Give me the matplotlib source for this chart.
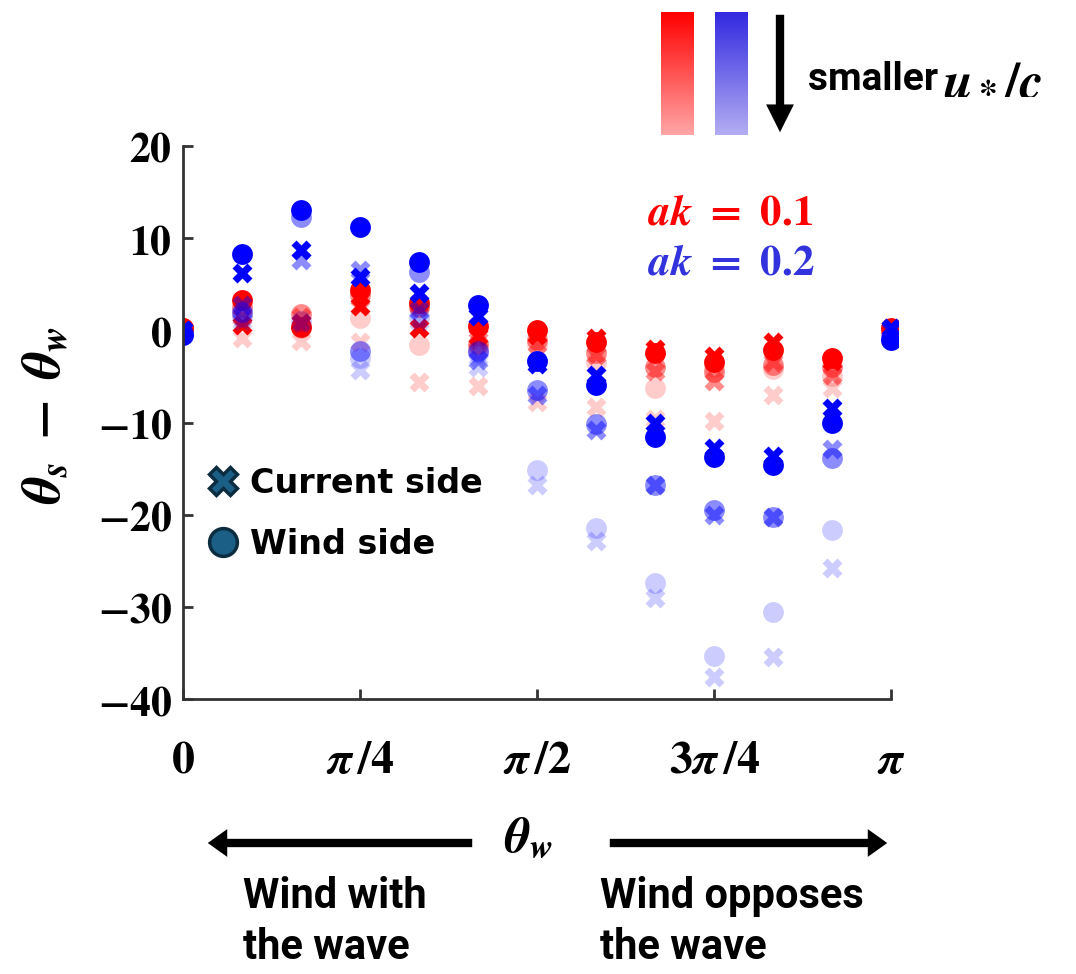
import numpy as np
import matplotlib.pyplot as plt
from matplotlib.lines import Line2D
from matplotlib.patches import FancyArrowPatch

plt.rcParams['mathtext.fontset'] = 'custom'
plt.rcParams['mathtext.rm'] = 'STIXGeneral:bold'
plt.rcParams['mathtext.it'] = 'STIXGeneral:italic:bold'
plt.rcParams['mathtext.bf'] = 'STIXGeneral:bold'
plt.rcParams['font.family'] = ['Roboto', 'DejaVu Sans']

# wind direction, 0 .. pi in steps of pi/12
theta_w = np.arange(13) * np.pi / 12

# ak = 0.1 (red), three u*/c levels: strong -> weak
r_full_circle = [0.3, 3.3, 0.4, 4.4, 3.0, 0.5, 0.0, -1.3, -2.5, -3.4, -2.1, -3.0, 0.3]
r_full_cross = [0.0, 0.6, 0.8, 2.6, 0.3, -0.6, -0.5, -0.8, -2.0, -2.8, -1.3, -3.3, 0.3]
r_mid_circle = [0.2, 2.5, 1.8, 3.8, 2.5, -1.5, -1.0, -2.5, -4.0, -4.5, -3.8, -4.0, 0.0]
r_mid_cross = [0.0, 1.5, 1.5, 3.5, 2.8, -1.0, -1.5, -2.7, -4.4, -5.5, -3.4, -4.8, 0.0]
r_light_circle = [0.0, 1.8, 0.2, 1.3, -1.6, -2.0, -1.5, -3.4, -6.3, -4.0, -4.2, -5.0, -0.3]
r_light_cross = [-0.2, -0.8, -1.2, -1.3, -5.6, -6.0, -7.8, -8.3, -9.6, -9.8, -7.0, -6.3, -0.2]

# ak = 0.2 (blue)
b_full_circle = [-0.5, 8.3, 13.1, 11.2, 7.4, 2.8, -3.3, -5.9, -11.6, -13.7, -14.6, -10.0, -1.0]
b_full_cross = [0.0, 6.2, 8.7, 5.8, 4.1, 1.6, -3.6, -4.8, -10.0, -12.8, -13.6, -8.4, 0.2]
b_mid_circle = [-0.3, 2.0, 12.3, -2.2, 6.3, -2.2, -6.5, -10.2, -16.8, -19.5, -20.2, -13.9, -0.8]
b_mid_cross = [0.0, 2.8, 7.6, 6.6, 2.2, -3.2, -7.0, -10.8, -16.8, -20.0, -20.3, -12.9, 0.0]
b_light_circle = [-0.3, 1.5, 1.0, -3.0, 1.5, -2.5, -15.2, -21.4, -27.4, -35.3, -30.6, -21.7, -0.8]
b_light_cross = [0.0, 1.0, 0.8, -4.3, 1.0, -4.0, -16.8, -22.9, -29.0, -37.6, -35.4, -25.8, 0.0]

xtick_pos = [0, np.pi / 4, np.pi / 2, 3 * np.pi / 4, np.pi]
xtick_labels = [r'$\mathrm{0}$', r'$\pi\,/\mathrm{4}$', r'$\pi\,/\mathrm{2}$',
                r'$\mathrm{3}\pi\,/\mathrm{4}$', r'$\pi$']
ytick_pos = [-40, -30, -20, -10, 0, 10, 20]

W, H = 1076, 974


def fx(px):
    return px / W


def fy(py):
    return 1 - py / H


fig = plt.figure(figsize=(10.76, 9.74), dpi=100)
ax = fig.add_axes([fx(183), fy(699), 715 / W, 553 / H])

series = [
    ('#ff0000', [(0.2, r_light_cross, r_light_circle),
                 (0.45, r_mid_cross, r_mid_circle),
                 (1.0, r_full_cross, r_full_circle)]),
    ('#0000ff', [(0.2, b_light_cross, b_light_circle),
                 (0.45, b_mid_cross, b_mid_circle),
                 (1.0, b_full_cross, b_full_circle)]),
]
for color, levels in series:
    for alpha, cross, circle in levels:
        ax.plot(theta_w, cross, 'X', ms=15, color=color, alpha=alpha, mec='none')
        ax.plot(theta_w, circle, 'o', ms=15, color=color, alpha=alpha, mec='none')

ax.set_xlim(0, np.pi + 0.03)
ax.set_ylim(-40, 20)
for s in ['top', 'right']:
    ax.spines[s].set_visible(False)
for s in ['left', 'bottom']:
    ax.spines[s].set_linewidth(2)
    ax.spines[s].set_color('#333333')
ax.spines['bottom'].set_bounds(0, np.pi)

ax.set_xticks(xtick_pos)
ax.set_xticklabels(xtick_labels)
ax.set_yticks(ytick_pos)
ax.set_yticklabels([r'$\mathrm{%d}$' % v for v in ytick_pos])
ax.tick_params(direction='in', length=7, width=2, color='#333333', labelsize=30)
ax.tick_params(axis='x', pad=28, labelsize=33)
ax.tick_params(axis='y', pad=8)

fig.text(fx(45), fy(415), r'$\theta_s\;-\;\theta_w$', rotation=90,
         ha='center', va='center', fontsize=39)

fig.text(fx(730), fy(213), r'$ak\ =\ \mathrm{0.1}$', color='#ff0000',
         ha='center', va='center', fontsize=31)
fig.text(fx(731), fy(263), r'$ak\ =\ \mathrm{0.2}$', color='#3333dd',
         ha='center', va='center', fontsize=31)

handles = [
    Line2D([], [], marker='X', ls='none', ms=20, mfc='#1b5f86', mec='#0c2c40', mew=2.5),
    Line2D([], [], marker='o', ls='none', ms=20, mfc='#1b5f86', mec='#0c2c40', mew=2.5),
]
ax.legend(handles, ['Current side', 'Wind side'], loc='upper left',
          bbox_to_anchor=(0.01, 0.45), frameon=False,
          prop={'family': 'DejaVu Sans', 'weight': 'bold', 'size': 24},
          handletextpad=0.3, labelspacing=0.85, handlelength=1.0, borderpad=0)

# x label with the two direction arrows
fig.text(fx(528), fy(838), r'$\theta_w$', ha='center', va='center', fontsize=36)
arrow_style = 'simple,head_length=1.4,head_width=2.0,tail_width=0.6'
fig.add_artist(FancyArrowPatch((fx(475), fy(843)), (fx(205), fy(843)), transform=fig.transFigure,
                               arrowstyle=arrow_style, mutation_scale=10, color='black', lw=0))
fig.add_artist(FancyArrowPatch((fx(607), fy(843)), (fx(890), fy(843)), transform=fig.transFigure,
                               arrowstyle=arrow_style, mutation_scale=10, color='black', lw=0))
fig.text(fx(243), fy(922), 'Wind with\nthe wave', ha='left', va='center', fontsize=30,
         fontweight='bold', linespacing=1.3)
fig.text(fx(600), fy(922), 'Wind opposes\nthe wave', ha='left', va='center', fontsize=30,
         fontweight='bold', linespacing=1.3)

# u*/c colour key at the top
grad = np.linspace(0, 1, 100).reshape(-1, 1)
for x0, top, bottom in [(661, (1.0, 0.0, 0.0), (1.0, 0.65, 0.65)),
                        (715, (0.2, 0.16, 0.88), (0.70, 0.68, 0.95))]:
    kax = fig.add_axes([fx(x0), fy(135), 33 / W, 123 / H])
    img = np.array(top)[None, None, :] * (1 - grad[:, :, None]) + np.array(bottom)[None, None, :] * grad[:, :, None]
    kax.imshow(img, aspect='auto')
    kax.axis('off')
fig.add_artist(FancyArrowPatch((fx(780), fy(12)), (fx(780), fy(135)), transform=fig.transFigure,
                               arrowstyle='simple,head_length=2.0,head_width=2.0,tail_width=0.6',
                               mutation_scale=10, color='black', lw=0))
fig.text(fx(808), fy(80), 'smaller', ha='left', va='center', fontsize=28, fontweight='bold')
fig.text(fx(943), fy(78), r'$u_*/c$', ha='left', va='center', fontsize=38)

fig.savefig('out.png', dpi=100)
